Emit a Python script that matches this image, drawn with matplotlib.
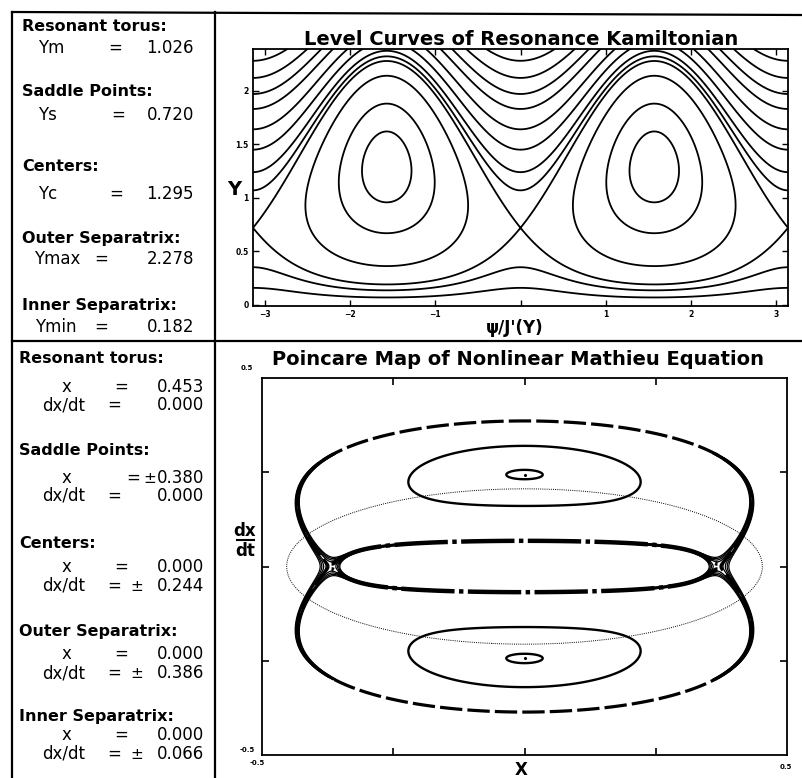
import numpy as np
import matplotlib.pyplot as plt
from matplotlib.lines import Line2D

plt.rcParams['font.family'] = 'DejaVu Sans'

# values printed in the two left-hand boxes
Ym, Ys, Yc, Ymax, Ymin = 1.026, 0.720, 1.295, 2.278, 0.182
x_res, x_saddle = 0.453, 0.380
v_center, v_outer, v_inner = 0.244, 0.386, 0.066
v_res = 0.206   # height of the dotted resonant torus

# level curves
open_y = [1.07, 1.24, 1.45, 1.64, 1.83, 1.97, 2.12, 2.28]   # Y where the open curves cross psi = 0
ring_y = [1.62, 1.88, 2.14]                                # Y at the top of the closed curves
# orbits of the Poincare map, given as Y at psi = pi/2
island_y = [0.74]
small_y = [1.21]
sep_band = [-0.02, -0.015, -0.01, -0.005, 0.005, 0.01, 0.015, 0.02]   # chaotic layer
# x half-width of the section for a given Y (estimated from the drawn separatrices)
xmap_y = [0.19, 0.36, 0.50, 0.60, Ys, 0.86, 1.01, 1.37, 1.71, 2.01, Ymax]
xmap_x = [0.300, 0.318, 0.345, 0.362, x_saddle, 0.395, 0.418, 0.488, 0.575, 0.690, 0.900]

heads = ["Resonant torus:", "Saddle Points:", "Centers:", "Outer Separatrix:", "Inner Separatrix:"]
y_names = ["Ym", "Ys", "Yc", "Ymax", "Ymin"]
y_vals = [Ym, Ys, Yc, Ymax, Ymin]
x_vals = ["0.453", "0.380", "0.000", "0.000", "0.000"]
v_vals = ["0.000", "0.000", "0.244", "0.386", "0.066"]
x_pm = [False, True, False, False, False]
v_pm = [False, False, True, True, True]

# resonance Hamiltonian H = (Y-Ym)^2 + b (Y-Ym)^3 + Y (k0 + k1 Y) cos(2 psi),
# fitted so saddle, center and outer separatrix sit at the printed Y values
us, uc, um = Ys - Ym, Yc - Ym, Ymax - Ym
M = np.array([[3 * us**2, 1, 2 * Ys],
              [3 * uc**2, -1, -2 * Yc],
              [us**3 - um**3, Ys + Ymax, Ys**2 + Ymax**2]])
b, k0, k1 = np.linalg.solve(M, [-2 * us, -2 * uc, um**2 - us**2])


def ham(psi, Y):
    u = Y - Ym
    return u**2 + b * u**3 + Y * (k0 + k1 * Y) * np.cos(2 * psi)


Hs = ham(0, Ys)

# section coordinates: x = X(Y) cos psi, dx/dt = V(Y) sin psi
pv = np.polyfit(np.log([Ymin, Yc, Ymax]), np.log([v_inner, v_center, v_outer]), 2)
px = np.polyfit(np.log(xmap_y), np.log(xmap_x), 3)

psi = np.linspace(-np.pi, np.pi, 900)
yy = np.linspace(0.002, 2.6, 700)
P, Yg = np.meshgrid(psi, yy)
Hg = ham(P, Yg)
Xg = np.exp(np.polyval(px, np.log(np.clip(Yg, 0.19, 2.4)))) * np.cos(P)
Vg = np.exp(np.polyval(pv, np.log(Yg))) * np.sin(P)

W, H = 802, 778
fig = plt.figure(figsize=(W / 100, H / 100), dpi=100)


def fig_xy(x, y):
    return x / W, 1 - y / H


def put(x, y, s, size, bold=False, ha='left', va='baseline'):
    fx, fy = fig_xy(x, y)
    fig.text(fx, fy, s, fontsize=size, fontweight='bold' if bold else 'normal', ha=ha, va=va)


def rule(x0, y0, x1, y1, lw=1.6):
    a, c = fig_xy(x0, y0)
    d, e = fig_xy(x1, y1)
    fig.add_artist(Line2D([a, d], [c, e], color='k', lw=lw))


# frame of the page
rule(12, 12, 802, 15)
rule(12, 12, 12, 778)
rule(12, 341, 802, 341)
rule(214.5, 12, 214.5, 778)

# ---- top left box ----
head_base = [31, 96, 171, 243, 310]
val_base = [53, 120, 199, 264, 332]
name_x = [38, 38, 38, 34, 35]
eq_x = [115, 118, 116, 101, 101]
for i in range(5):
    put(22, head_base[i], heads[i], 11.5, bold=True)
    put(name_x[i], val_base[i], y_names[i], 12)
    put(eq_x[i], val_base[i], "=", 12, ha='center')
    put(194, val_base[i], f"{y_vals[i]:.3f}", 12, ha='right')

# ---- bottom left box ----
bh = [363, 455, 548, 636, 721]
bx = [392, 483, 572, 659, 740]
bv = [410, 501, 591, 678, 759]
for i in range(5):
    put(19, bh[i], heads[i], 11.5, bold=True)
    put(66, bx[i], "x", 12, ha='center')
    put(204, bx[i], x_vals[i], 12, ha='right')
    if x_pm[i]:
        put(133, bx[i], "=", 12, ha='center')
        put(150, bx[i], "\u00b1", 11, ha='center')
    else:
        put(121, bx[i], "=", 12, ha='center')
    put(42, bv[i], "dx/dt", 12)
    put(114, bv[i], "=", 12, ha='center')
    put(204, bv[i], v_vals[i], 12, ha='right')
    if v_pm[i]:
        put(137, bv[i], "\u00b1", 11, ha='center')

# ---- level curves ----
ax1 = fig.add_axes([253 / W, 1 - 306 / H, 535 / W, 257 / H])
levels = sorted([ham(0, y) for y in open_y] + [ham(np.pi / 2, y) for y in ring_y] + [Hs])
ax1.contour(P, Yg, Hg, levels=levels, colors='k', linewidths=1.3, linestyles='solid')
ax1.set_xlim(-np.pi, np.pi)
ax1.set_ylim(-0.01, 2.39)
ax1.set_xticks([-3, -2, -1, 0, 1, 2, 3])
ax1.set_xticklabels(['\u22123', '\u22122', '\u22121', '', '1', '2', '3'])
ax1.set_yticks([0, 0.5, 1, 1.5, 2])
ax1.set_yticklabels(['0', '0.5', '1', '1.5', '2'])
ax1.tick_params(direction='in', top=True, right=True, length=4, width=1, labelsize=5.5, pad=3)
for t in ax1.get_xticklabels() + ax1.get_yticklabels():
    t.set_fontweight('bold')
for s in ax1.spines.values():
    s.set_linewidth(1.3)

put(521, 45, "Level Curves of Resonance Kamiltonian", 14, bold=True, ha='center')
put(234, 195, "Y", 14, bold=True, ha='center')
put(515, 333, "\u03c8/J'(Y)", 12, bold=True, ha='center')

# ---- Poincare map ----
ax2 = fig.add_axes([262 / W, 1 - 755 / H, 525 / W, 377 / H])
upper = np.ma.masked_where(Yg < Ys, Hg)
lower = np.ma.masked_where(Yg > Ys, Hg)
near_saddle = np.ma.masked_where(np.abs(np.cos(P)) < 0.5, Hg)
ax2.contour(Xg, Vg, upper, levels=[Hs + 0.002], colors='k', linewidths=2.3,
            linestyles=[(0, (7, 1.6))])
ax2.contour(Xg, Vg, lower, levels=[Hs - 0.002], colors='k', linewidths=3.2,
            linestyles=[(0, (12, 1, 1, 1))])
ax2.contour(Xg, Vg, near_saddle, levels=Hs + np.array(sep_band), colors='k', linewidths=0.9,
            linestyles='solid')
ax2.contour(Xg, Vg, Hg, levels=[ham(np.pi / 2, y) for y in island_y], colors='k',
            linewidths=1.7, linestyles='solid')
ax2.contour(Xg, Vg, Hg, levels=[ham(np.pi / 2, y) for y in small_y], colors='k',
            linewidths=1.7, linestyles='solid')
xe, ve = np.meshgrid(np.linspace(-0.5, 0.5, 501), np.linspace(-0.5, 0.5, 501))
ax2.contour(xe, ve, (xe / x_res)**2 + (ve / v_res)**2, levels=[1], colors='k',
            linewidths=0.7, linestyles=[(0, (1, 1.2))])
ax2.plot([0, 0], [v_center, -v_center], 'k.', ms=2.5)
ax2.set_xlim(-0.5, 0.5)
ax2.set_ylim(-0.5, 0.5)
ax2.set_xticks([-0.25, 0, 0.25])
ax2.set_yticks([-0.25, 0, 0.25])
ax2.tick_params(direction='in', top=True, right=True, length=5, width=1.2,
                labelbottom=False, labelleft=False)
for s in ax2.spines.values():
    s.set_linewidth(1.3)

put(272, 365, "Poincare Map of Nonlinear Mathieu Equation", 14, bold=True)
put(521, 775, "X", 12, bold=True, ha='center')
put(245, 536, "dx", 12, bold=True, ha='center')
rule(237, 540, 254, 540, lw=1.5)
put(245, 556, "dt", 12, bold=True, ha='center')
put(247, 370, "0.5", 5, bold=True, ha='center')
put(247, 752, "-0.5", 5, bold=True, ha='center')
put(257, 765, "-0.5", 5, bold=True, ha='center')
put(786, 769, "0.5", 5, bold=True, ha='center')

fig.savefig("out.png", dpi=100)
